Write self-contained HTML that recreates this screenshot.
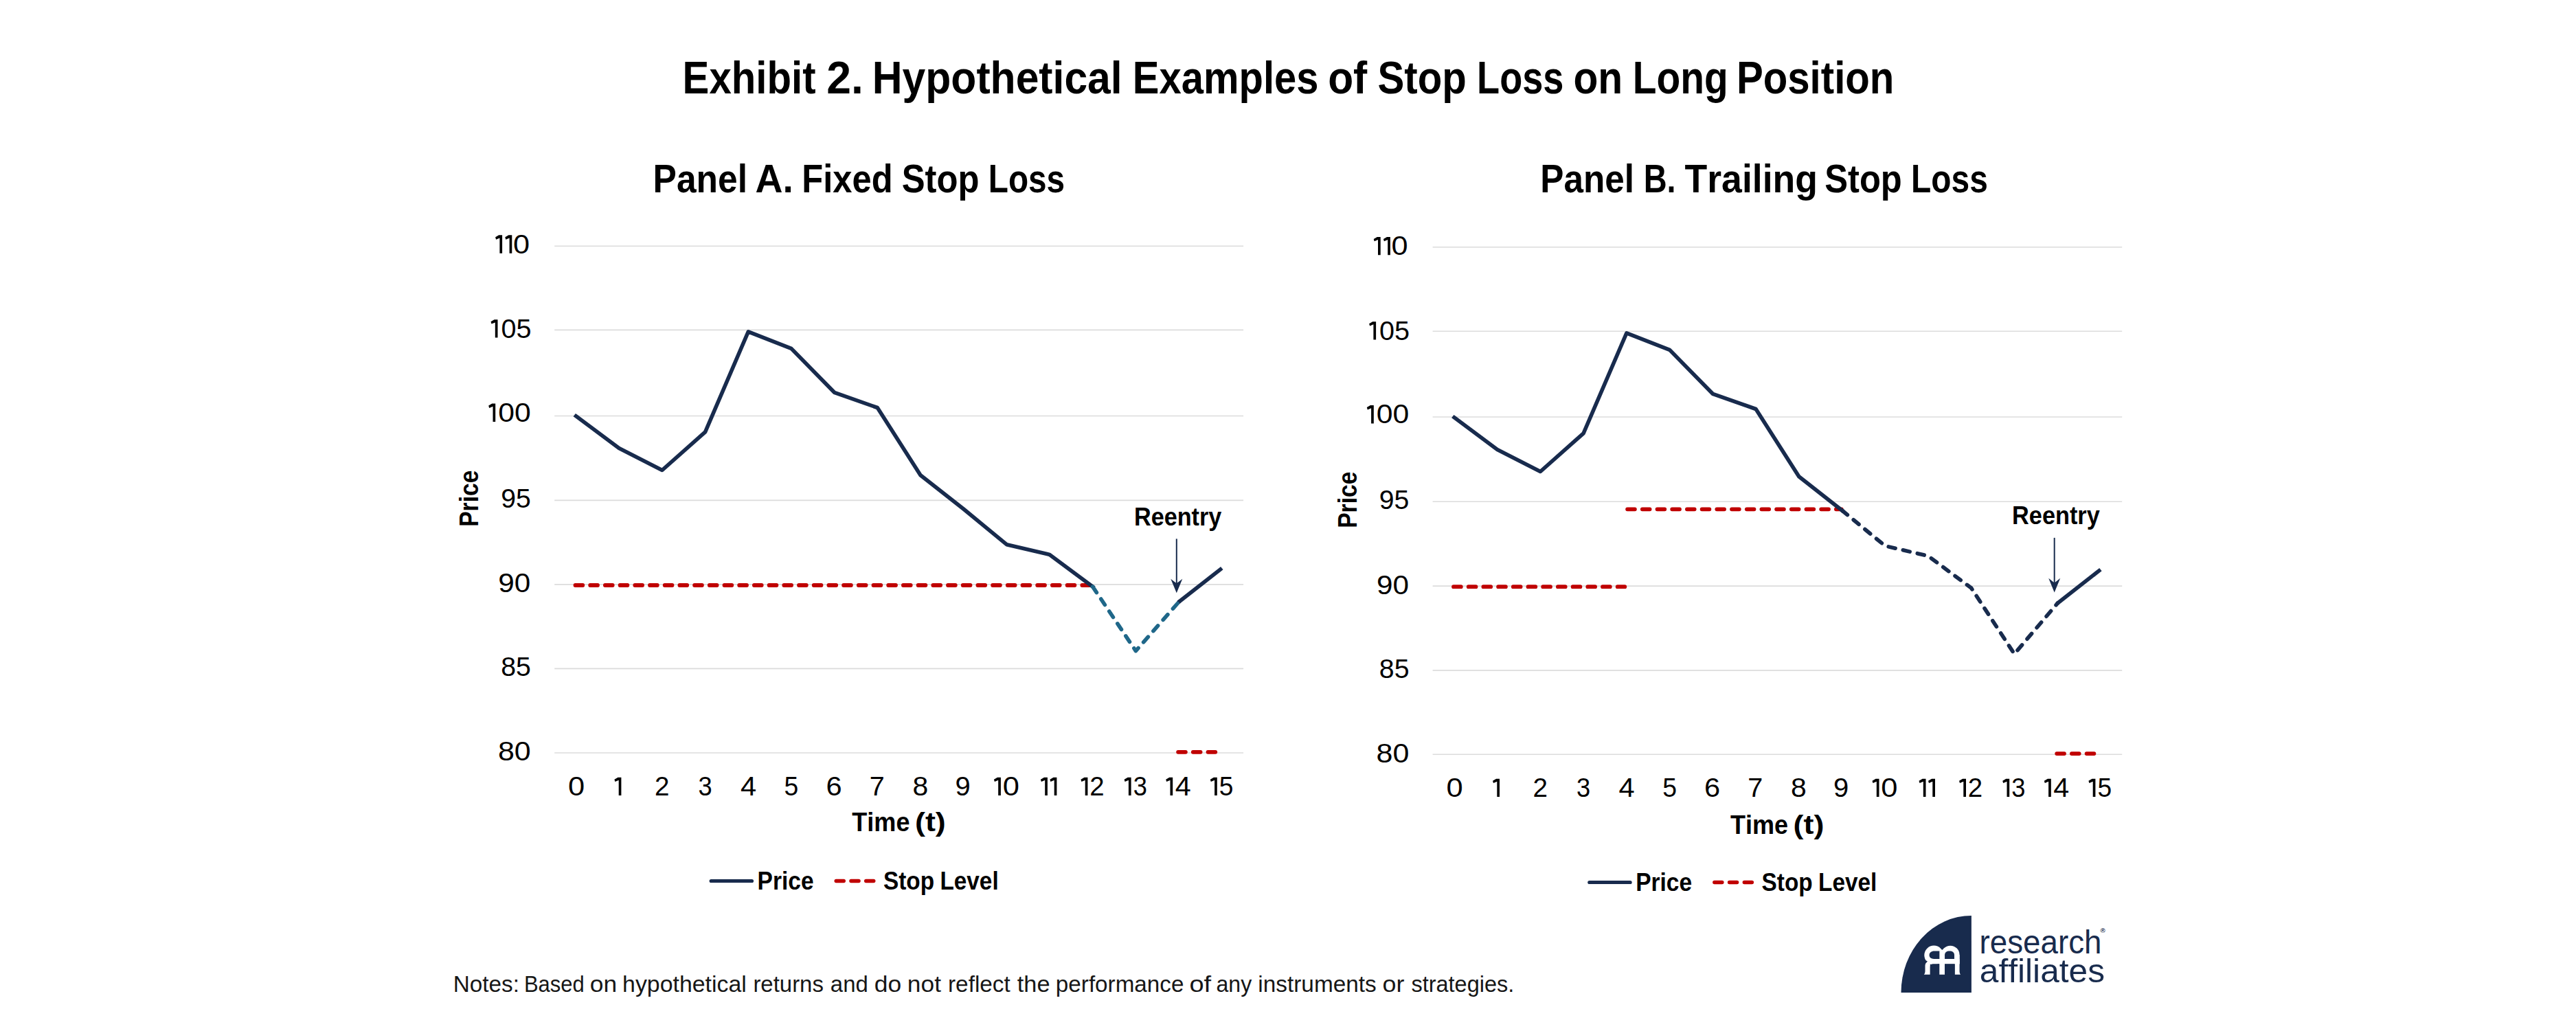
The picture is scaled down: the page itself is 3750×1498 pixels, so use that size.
<!DOCTYPE html>
<html><head><meta charset="utf-8"><title>Exhibit 2</title>
<style>
html,body{margin:0;padding:0;background:#fff;}
body{width:3750px;height:1498px;overflow:hidden;}
svg{display:block;font-family:"Liberation Sans",sans-serif;font-kerning:none;}
</style></head><body>
<svg width="3750" height="1498" viewBox="0 0 3750 1498">
<rect width="3750" height="1498" fill="#fff"/>
<text x="993.61" y="136.00" font-size="67.50" font-weight="bold" text-anchor="start" fill="#000" textLength="193.90" lengthAdjust="spacingAndGlyphs">Exhibit</text>
<text x="1203.27" y="136.00" font-size="67.50" font-weight="bold" text-anchor="start" fill="#000" textLength="53.66" lengthAdjust="spacingAndGlyphs">2.</text>
<text x="1269.84" y="136.00" font-size="67.50" font-weight="bold" text-anchor="start" fill="#000" textLength="363.85" lengthAdjust="spacingAndGlyphs">Hypothetical</text>
<text x="1648.82" y="136.00" font-size="67.50" font-weight="bold" text-anchor="start" fill="#000" textLength="270.65" lengthAdjust="spacingAndGlyphs">Examples</text>
<text x="1933.13" y="136.00" font-size="67.50" font-weight="bold" text-anchor="start" fill="#000" textLength="57.15" lengthAdjust="spacingAndGlyphs">of</text>
<text x="2005.52" y="136.00" font-size="67.50" font-weight="bold" text-anchor="start" fill="#000" textLength="129.37" lengthAdjust="spacingAndGlyphs">Stop</text>
<text x="2150.08" y="136.00" font-size="67.50" font-weight="bold" text-anchor="start" fill="#000" textLength="126.34" lengthAdjust="spacingAndGlyphs">Loss</text>
<text x="2290.51" y="136.00" font-size="67.50" font-weight="bold" text-anchor="start" fill="#000" textLength="71.73" lengthAdjust="spacingAndGlyphs">on</text>
<text x="2376.69" y="136.00" font-size="67.50" font-weight="bold" text-anchor="start" fill="#000" textLength="139.01" lengthAdjust="spacingAndGlyphs">Long</text>
<text x="2527.91" y="136.00" font-size="67.50" font-weight="bold" text-anchor="start" fill="#000" textLength="229.50" lengthAdjust="spacingAndGlyphs">Position</text>
<text x="950.55" y="280.20" font-size="58.10" font-weight="bold" text-anchor="start" fill="#000" textLength="137.50" lengthAdjust="spacingAndGlyphs">Panel</text>
<text x="1099.52" y="280.20" font-size="58.10" font-weight="bold" text-anchor="start" fill="#000" textLength="55.39" lengthAdjust="spacingAndGlyphs">A.</text>
<text x="1167.31" y="280.20" font-size="58.10" font-weight="bold" text-anchor="start" fill="#000" textLength="132.33" lengthAdjust="spacingAndGlyphs">Fixed</text>
<text x="1312.74" y="280.20" font-size="58.10" font-weight="bold" text-anchor="start" fill="#000" textLength="112.85" lengthAdjust="spacingAndGlyphs">Stop</text>
<text x="1438.81" y="280.20" font-size="58.10" font-weight="bold" text-anchor="start" fill="#000" textLength="111.35" lengthAdjust="spacingAndGlyphs">Loss</text>
<text x="2242.37" y="280.20" font-size="58.10" font-weight="bold" text-anchor="start" fill="#000" textLength="136.76" lengthAdjust="spacingAndGlyphs">Panel</text>
<text x="2392.66" y="280.20" font-size="58.10" font-weight="bold" text-anchor="start" fill="#000" textLength="46.98" lengthAdjust="spacingAndGlyphs">B.</text>
<text x="2452.50" y="280.20" font-size="58.10" font-weight="bold" text-anchor="start" fill="#000" textLength="193.49" lengthAdjust="spacingAndGlyphs">Trailing</text>
<text x="2656.24" y="280.20" font-size="58.10" font-weight="bold" text-anchor="start" fill="#000" textLength="112.54" lengthAdjust="spacingAndGlyphs">Stop</text>
<text x="2782.00" y="280.20" font-size="58.10" font-weight="bold" text-anchor="start" fill="#000" textLength="111.77" lengthAdjust="spacingAndGlyphs">Loss</text>
<line x1="807.2" x2="1810.1" y1="1096.00" y2="1096.00" stroke="#dcdcdc" stroke-width="1.6"/>
<line x1="807.2" x2="1810.1" y1="973.35" y2="973.35" stroke="#dcdcdc" stroke-width="1.6"/>
<line x1="807.2" x2="1810.1" y1="850.85" y2="850.85" stroke="#dcdcdc" stroke-width="1.6"/>
<line x1="807.2" x2="1810.1" y1="728.40" y2="728.40" stroke="#dcdcdc" stroke-width="1.6"/>
<line x1="807.2" x2="1810.1" y1="605.50" y2="605.50" stroke="#dcdcdc" stroke-width="1.6"/>
<line x1="807.2" x2="1810.1" y1="480.40" y2="480.40" stroke="#dcdcdc" stroke-width="1.6"/>
<line x1="807.2" x2="1810.1" y1="358.25" y2="358.25" stroke="#dcdcdc" stroke-width="1.6"/>
<path d="M726.20,342.35 L731.10,342.35 L731.10,368.65 L727.40,368.65 L727.40,346.45 L722.10,348.65 L721.10,345.35 Z" fill="#000"/>
<path d="M740.40,342.35 L745.30,342.35 L745.30,368.65 L741.60,368.65 L741.60,346.45 L736.30,348.65 L735.30,345.35 Z" fill="#000"/>
<text x="747.01" y="368.65" font-size="38.40" font-weight="normal" text-anchor="start" fill="#000" textLength="24.08" lengthAdjust="spacingAndGlyphs">0</text>
<path d="M719.60,465.30 L724.50,465.30 L724.50,491.60 L720.80,491.60 L720.80,469.40 L715.50,471.60 L714.50,468.30 Z" fill="#000"/>
<text x="729.40" y="491.60" font-size="38.40" font-weight="normal" text-anchor="start" fill="#000" textLength="44.06" lengthAdjust="spacingAndGlyphs">05</text>
<path d="M716.30,587.60 L721.20,587.60 L721.20,613.90 L717.50,613.90 L717.50,591.70 L712.20,593.90 L711.20,590.60 Z" fill="#000"/>
<text x="725.23" y="613.90" font-size="38.40" font-weight="normal" text-anchor="start" fill="#000" textLength="47.54" lengthAdjust="spacingAndGlyphs">00</text>
<text x="729.16" y="738.60" font-size="38.40" font-weight="normal" text-anchor="start" fill="#000" textLength="43.58" lengthAdjust="spacingAndGlyphs">95</text>
<text x="725.32" y="861.65" font-size="38.40" font-weight="normal" text-anchor="start" fill="#000" textLength="47.03" lengthAdjust="spacingAndGlyphs">90</text>
<text x="729.29" y="983.75" font-size="38.40" font-weight="normal" text-anchor="start" fill="#000" textLength="43.65" lengthAdjust="spacingAndGlyphs">85</text>
<text x="724.93" y="1106.80" font-size="38.40" font-weight="normal" text-anchor="start" fill="#000" textLength="47.85" lengthAdjust="spacingAndGlyphs">80</text>
<text x="826.90" y="1158.00" font-size="38.40" font-weight="normal" text-anchor="start" fill="#000" textLength="24.20" lengthAdjust="spacingAndGlyphs">0</text>
<path d="M899.50,1131.70 L904.40,1131.70 L904.40,1158.00 L900.70,1158.00 L900.70,1135.80 L895.40,1138.00 L894.40,1134.70 Z" fill="#000"/>
<text x="952.96" y="1158.00" font-size="38.40" font-weight="normal" text-anchor="start" fill="#000" textLength="21.49" lengthAdjust="spacingAndGlyphs">2</text>
<text x="1016.52" y="1158.00" font-size="38.40" font-weight="normal" text-anchor="start" fill="#000" textLength="20.18" lengthAdjust="spacingAndGlyphs">3</text>
<text x="1077.94" y="1158.00" font-size="38.40" font-weight="normal" text-anchor="start" fill="#000" textLength="23.18" lengthAdjust="spacingAndGlyphs">4</text>
<text x="1141.61" y="1158.00" font-size="38.40" font-weight="normal" text-anchor="start" fill="#000" textLength="20.76" lengthAdjust="spacingAndGlyphs">5</text>
<text x="1202.49" y="1158.00" font-size="38.40" font-weight="normal" text-anchor="start" fill="#000" textLength="23.14" lengthAdjust="spacingAndGlyphs">6</text>
<text x="1265.77" y="1158.00" font-size="38.40" font-weight="normal" text-anchor="start" fill="#000" textLength="22.02" lengthAdjust="spacingAndGlyphs">7</text>
<text x="1328.42" y="1158.00" font-size="38.40" font-weight="normal" text-anchor="start" fill="#000" textLength="22.76" lengthAdjust="spacingAndGlyphs">8</text>
<text x="1390.52" y="1158.00" font-size="38.40" font-weight="normal" text-anchor="start" fill="#000" textLength="22.27" lengthAdjust="spacingAndGlyphs">9</text>
<path d="M1452.00,1131.70 L1456.90,1131.70 L1456.90,1158.00 L1453.20,1158.00 L1453.20,1135.80 L1447.90,1138.00 L1446.90,1134.70 Z" fill="#000"/>
<text x="1459.70" y="1158.00" font-size="38.40" font-weight="normal" text-anchor="start" fill="#000" textLength="24.20" lengthAdjust="spacingAndGlyphs">0</text>
<path d="M1520.00,1131.70 L1524.90,1131.70 L1524.90,1158.00 L1521.20,1158.00 L1521.20,1135.80 L1515.90,1138.00 L1514.90,1134.70 Z" fill="#000"/>
<path d="M1533.50,1131.70 L1538.40,1131.70 L1538.40,1158.00 L1534.70,1158.00 L1534.70,1135.80 L1529.40,1138.00 L1528.40,1134.70 Z" fill="#000"/>
<path d="M1578.50,1131.70 L1583.40,1131.70 L1583.40,1158.00 L1579.70,1158.00 L1579.70,1135.80 L1574.40,1138.00 L1573.40,1134.70 Z" fill="#000"/>
<text x="1586.27" y="1158.00" font-size="38.40" font-weight="normal" text-anchor="start" fill="#000" textLength="21.36" lengthAdjust="spacingAndGlyphs">2</text>
<path d="M1641.70,1131.70 L1646.60,1131.70 L1646.60,1158.00 L1642.90,1158.00 L1642.90,1135.80 L1637.60,1138.00 L1636.60,1134.70 Z" fill="#000"/>
<text x="1649.72" y="1158.00" font-size="38.40" font-weight="normal" text-anchor="start" fill="#000" textLength="20.18" lengthAdjust="spacingAndGlyphs">3</text>
<path d="M1702.30,1131.70 L1707.20,1131.70 L1707.20,1158.00 L1703.50,1158.00 L1703.50,1135.80 L1698.20,1138.00 L1697.20,1134.70 Z" fill="#000"/>
<text x="1710.75" y="1158.00" font-size="38.40" font-weight="normal" text-anchor="start" fill="#000" textLength="22.96" lengthAdjust="spacingAndGlyphs">4</text>
<path d="M1766.90,1131.70 L1771.80,1131.70 L1771.80,1158.00 L1768.10,1158.00 L1768.10,1135.80 L1762.80,1138.00 L1761.80,1134.70 Z" fill="#000"/>
<text x="1774.81" y="1158.00" font-size="38.40" font-weight="normal" text-anchor="start" fill="#000" textLength="20.65" lengthAdjust="spacingAndGlyphs">5</text>
<g transform="translate(696.0,764.6) rotate(-90)">
<text x="-2.25" y="0.00" font-size="39.40" font-weight="bold" text-anchor="start" fill="#000" textLength="82.20" lengthAdjust="spacingAndGlyphs">Price</text>
</g>
<text x="1240.30" y="1210.10" font-size="38.00" font-weight="bold" text-anchor="start" fill="#000" textLength="84.14" lengthAdjust="spacingAndGlyphs">Time</text>
<text x="1331.96" y="1210.10" font-size="38.00" font-weight="bold" text-anchor="start" fill="#000" textLength="44.87" lengthAdjust="spacingAndGlyphs">(t)</text>
<line x1="837.5" x2="1585.7" y1="852.0" y2="852.0" stroke="#c00000" stroke-width="5.8" stroke-linecap="round" stroke-dasharray="10.8 10.9"/>
<line x1="1715.1" x2="1769.8" y1="1094.8" y2="1094.8" stroke="#c00000" stroke-width="5.8" stroke-linecap="round" stroke-dasharray="10.8 10.9"/>
<polyline points="838.5,605.8 901.2,652.5 963.9,684.5 1026.6,628.9 1089.3,482.8 1151.9,507.4 1214.6,571.3 1277.3,593.5 1340.0,691.8 1402.7,741.0 1465.4,792.7 1528.0,807.4 1590.7,854.1" fill="none" stroke="#182b4d" stroke-width="5.6" stroke-linecap="square" stroke-linejoin="round"/>
<polyline points="1716.1,876.3 1778.8,827.1" fill="none" stroke="#182b4d" stroke-width="5.6" stroke-linecap="butt" stroke-linejoin="round"/>
<circle cx="1716.1" cy="876.3" r="2.8" fill="#182b4d"/>
<polyline points="1590.7,854.1 1653.4,947.6 1716.1,876.3" fill="none" stroke="#1f6789" stroke-width="5.6" stroke-linecap="round" stroke-linejoin="round" stroke-dasharray="10.2 11.4" stroke-dashoffset="0"/>
<line x1="1035.2" x2="1094.5" y1="1282.5" y2="1282.5" stroke="#182b4d" stroke-width="5.2" stroke-linecap="round"/>
<text x="1102.56" y="1294.50" font-size="37.50" font-weight="bold" text-anchor="start" fill="#000" textLength="81.99" lengthAdjust="spacingAndGlyphs">Price</text>
<line x1="1217.3" x2="1272.0" y1="1282.5" y2="1282.5" stroke="#c00000" stroke-width="5.6" stroke-linecap="round" stroke-dasharray="10.9 10.85"/>
<text x="1285.94" y="1294.50" font-size="37.50" font-weight="bold" text-anchor="start" fill="#000" textLength="74.13" lengthAdjust="spacingAndGlyphs">Stop</text>
<text x="1368.47" y="1294.50" font-size="37.50" font-weight="bold" text-anchor="start" fill="#000" textLength="85.19" lengthAdjust="spacingAndGlyphs">Level</text>
<line x1="2085.6" x2="3089.2" y1="1098.30" y2="1098.30" stroke="#dcdcdc" stroke-width="1.6"/>
<line x1="2085.6" x2="3089.2" y1="975.85" y2="975.85" stroke="#dcdcdc" stroke-width="1.6"/>
<line x1="2085.6" x2="3089.2" y1="853.10" y2="853.10" stroke="#dcdcdc" stroke-width="1.6"/>
<line x1="2085.6" x2="3089.2" y1="730.20" y2="730.20" stroke="#dcdcdc" stroke-width="1.6"/>
<line x1="2085.6" x2="3089.2" y1="607.00" y2="607.00" stroke="#dcdcdc" stroke-width="1.6"/>
<line x1="2085.6" x2="3089.2" y1="482.30" y2="482.30" stroke="#dcdcdc" stroke-width="1.6"/>
<line x1="2085.6" x2="3089.2" y1="359.80" y2="359.80" stroke="#dcdcdc" stroke-width="1.6"/>
<path d="M2004.80,344.90 L2009.70,344.90 L2009.70,371.20 L2006.00,371.20 L2006.00,349.00 L2000.70,351.20 L1999.70,347.90 Z" fill="#000"/>
<path d="M2019.00,344.90 L2023.90,344.90 L2023.90,371.20 L2020.20,371.20 L2020.20,349.00 L2014.90,351.20 L2013.90,347.90 Z" fill="#000"/>
<text x="2025.61" y="371.20" font-size="38.40" font-weight="normal" text-anchor="start" fill="#000" textLength="24.08" lengthAdjust="spacingAndGlyphs">0</text>
<path d="M1998.20,468.20 L2003.10,468.20 L2003.10,494.50 L1999.40,494.50 L1999.40,472.30 L1994.10,474.50 L1993.10,471.20 Z" fill="#000"/>
<text x="2008.00" y="494.50" font-size="38.40" font-weight="normal" text-anchor="start" fill="#000" textLength="44.06" lengthAdjust="spacingAndGlyphs">05</text>
<path d="M1994.90,590.10 L1999.80,590.10 L1999.80,616.40 L1996.10,616.40 L1996.10,594.20 L1990.80,596.40 L1989.80,593.10 Z" fill="#000"/>
<text x="2003.83" y="616.40" font-size="38.40" font-weight="normal" text-anchor="start" fill="#000" textLength="47.54" lengthAdjust="spacingAndGlyphs">00</text>
<text x="2007.76" y="741.40" font-size="38.40" font-weight="normal" text-anchor="start" fill="#000" textLength="43.58" lengthAdjust="spacingAndGlyphs">95</text>
<text x="2003.92" y="864.90" font-size="38.40" font-weight="normal" text-anchor="start" fill="#000" textLength="47.03" lengthAdjust="spacingAndGlyphs">90</text>
<text x="2007.89" y="987.25" font-size="38.40" font-weight="normal" text-anchor="start" fill="#000" textLength="43.65" lengthAdjust="spacingAndGlyphs">85</text>
<text x="2003.53" y="1110.10" font-size="38.40" font-weight="normal" text-anchor="start" fill="#000" textLength="47.85" lengthAdjust="spacingAndGlyphs">80</text>
<text x="2105.50" y="1160.00" font-size="38.40" font-weight="normal" text-anchor="start" fill="#000" textLength="24.20" lengthAdjust="spacingAndGlyphs">0</text>
<path d="M2178.10,1133.70 L2183.00,1133.70 L2183.00,1160.00 L2179.30,1160.00 L2179.30,1137.80 L2174.00,1140.00 L2173.00,1136.70 Z" fill="#000"/>
<text x="2231.56" y="1160.00" font-size="38.40" font-weight="normal" text-anchor="start" fill="#000" textLength="21.49" lengthAdjust="spacingAndGlyphs">2</text>
<text x="2295.12" y="1160.00" font-size="38.40" font-weight="normal" text-anchor="start" fill="#000" textLength="20.18" lengthAdjust="spacingAndGlyphs">3</text>
<text x="2356.54" y="1160.00" font-size="38.40" font-weight="normal" text-anchor="start" fill="#000" textLength="23.18" lengthAdjust="spacingAndGlyphs">4</text>
<text x="2420.21" y="1160.00" font-size="38.40" font-weight="normal" text-anchor="start" fill="#000" textLength="20.76" lengthAdjust="spacingAndGlyphs">5</text>
<text x="2481.09" y="1160.00" font-size="38.40" font-weight="normal" text-anchor="start" fill="#000" textLength="23.14" lengthAdjust="spacingAndGlyphs">6</text>
<text x="2544.37" y="1160.00" font-size="38.40" font-weight="normal" text-anchor="start" fill="#000" textLength="22.02" lengthAdjust="spacingAndGlyphs">7</text>
<text x="2607.02" y="1160.00" font-size="38.40" font-weight="normal" text-anchor="start" fill="#000" textLength="22.76" lengthAdjust="spacingAndGlyphs">8</text>
<text x="2669.12" y="1160.00" font-size="38.40" font-weight="normal" text-anchor="start" fill="#000" textLength="22.27" lengthAdjust="spacingAndGlyphs">9</text>
<path d="M2730.60,1133.70 L2735.50,1133.70 L2735.50,1160.00 L2731.80,1160.00 L2731.80,1137.80 L2726.50,1140.00 L2725.50,1136.70 Z" fill="#000"/>
<text x="2738.30" y="1160.00" font-size="38.40" font-weight="normal" text-anchor="start" fill="#000" textLength="24.20" lengthAdjust="spacingAndGlyphs">0</text>
<path d="M2798.60,1133.70 L2803.50,1133.70 L2803.50,1160.00 L2799.80,1160.00 L2799.80,1137.80 L2794.50,1140.00 L2793.50,1136.70 Z" fill="#000"/>
<path d="M2812.10,1133.70 L2817.00,1133.70 L2817.00,1160.00 L2813.30,1160.00 L2813.30,1137.80 L2808.00,1140.00 L2807.00,1136.70 Z" fill="#000"/>
<path d="M2857.10,1133.70 L2862.00,1133.70 L2862.00,1160.00 L2858.30,1160.00 L2858.30,1137.80 L2853.00,1140.00 L2852.00,1136.70 Z" fill="#000"/>
<text x="2864.87" y="1160.00" font-size="38.40" font-weight="normal" text-anchor="start" fill="#000" textLength="21.36" lengthAdjust="spacingAndGlyphs">2</text>
<path d="M2920.30,1133.70 L2925.20,1133.70 L2925.20,1160.00 L2921.50,1160.00 L2921.50,1137.80 L2916.20,1140.00 L2915.20,1136.70 Z" fill="#000"/>
<text x="2928.32" y="1160.00" font-size="38.40" font-weight="normal" text-anchor="start" fill="#000" textLength="20.18" lengthAdjust="spacingAndGlyphs">3</text>
<path d="M2980.90,1133.70 L2985.80,1133.70 L2985.80,1160.00 L2982.10,1160.00 L2982.10,1137.80 L2976.80,1140.00 L2975.80,1136.70 Z" fill="#000"/>
<text x="2989.35" y="1160.00" font-size="38.40" font-weight="normal" text-anchor="start" fill="#000" textLength="22.96" lengthAdjust="spacingAndGlyphs">4</text>
<path d="M3045.50,1133.70 L3050.40,1133.70 L3050.40,1160.00 L3046.70,1160.00 L3046.70,1137.80 L3041.40,1140.00 L3040.40,1136.70 Z" fill="#000"/>
<text x="3053.41" y="1160.00" font-size="38.40" font-weight="normal" text-anchor="start" fill="#000" textLength="20.65" lengthAdjust="spacingAndGlyphs">5</text>
<g transform="translate(1974.6,766.6) rotate(-90)">
<text x="-2.25" y="0.00" font-size="39.40" font-weight="bold" text-anchor="start" fill="#000" textLength="82.20" lengthAdjust="spacingAndGlyphs">Price</text>
</g>
<text x="2518.90" y="1213.60" font-size="38.00" font-weight="bold" text-anchor="start" fill="#000" textLength="84.14" lengthAdjust="spacingAndGlyphs">Time</text>
<text x="2610.56" y="1213.60" font-size="38.00" font-weight="bold" text-anchor="start" fill="#000" textLength="44.87" lengthAdjust="spacingAndGlyphs">(t)</text>
<line x1="2116.0" x2="2365.3" y1="854.2" y2="854.2" stroke="#c00000" stroke-width="5.8" stroke-linecap="round" stroke-dasharray="10.8 10.9"/>
<line x1="2369.1" x2="2680.8" y1="741.3" y2="741.3" stroke="#c00000" stroke-width="5.8" stroke-linecap="round" stroke-dasharray="10.8 10.9"/>
<line x1="2994.2" x2="3048.9" y1="1097.1" y2="1097.1" stroke="#c00000" stroke-width="5.8" stroke-linecap="round" stroke-dasharray="10.8 10.9"/>
<polyline points="2117.0,607.8 2179.7,654.5 2242.4,686.5 2305.1,630.9 2367.9,484.8 2430.6,509.4 2493.3,573.3 2556.1,595.5 2618.8,693.8 2681.5,743.0" fill="none" stroke="#182b4d" stroke-width="5.6" stroke-linecap="square" stroke-linejoin="round"/>
<polyline points="2681.5,743.0 2744.2,794.7 2807.0,809.4 2869.7,856.1 2932.4,952.0 2995.2,878.3" fill="none" stroke="#182b4d" stroke-width="5.6" stroke-linecap="round" stroke-linejoin="round" stroke-dasharray="10.2 11.4" stroke-dashoffset="0"/>
<polyline points="2995.2,878.3 3057.9,829.1" fill="none" stroke="#182b4d" stroke-width="5.6" stroke-linecap="butt" stroke-linejoin="round"/>
<circle cx="2995.2" cy="878.3" r="2.8" fill="#182b4d"/>
<line x1="2313.8" x2="2373.1" y1="1284.5" y2="1284.5" stroke="#182b4d" stroke-width="5.2" stroke-linecap="round"/>
<text x="2381.16" y="1296.50" font-size="37.50" font-weight="bold" text-anchor="start" fill="#000" textLength="81.99" lengthAdjust="spacingAndGlyphs">Price</text>
<line x1="2495.9" x2="2550.6" y1="1284.5" y2="1284.5" stroke="#c00000" stroke-width="5.6" stroke-linecap="round" stroke-dasharray="10.9 10.85"/>
<text x="2564.54" y="1296.50" font-size="37.50" font-weight="bold" text-anchor="start" fill="#000" textLength="74.13" lengthAdjust="spacingAndGlyphs">Stop</text>
<text x="2647.07" y="1296.50" font-size="37.50" font-weight="bold" text-anchor="start" fill="#000" textLength="85.19" lengthAdjust="spacingAndGlyphs">Level</text>
<text x="1650.91" y="764.50" font-size="37.00" font-weight="bold" text-anchor="start" fill="#000" textLength="127.47" lengthAdjust="spacingAndGlyphs">Reentry</text>
<line x1="1712.8" x2="1712.8" y1="784.4" y2="855.3" stroke="#182b4d" stroke-width="2"/>
<path d="M1712.8,863.3 L1704.3,842.7 L1712.8,849.3 L1721.3,842.7 Z" fill="#182b4d"/>
<text x="2929.11" y="763.00" font-size="37.00" font-weight="bold" text-anchor="start" fill="#000" textLength="127.68" lengthAdjust="spacingAndGlyphs">Reentry</text>
<line x1="2990.7" x2="2990.7" y1="782.9" y2="854.4" stroke="#182b4d" stroke-width="2"/>
<path d="M2990.7,862.4 L2982.2,841.8 L2990.7,848.4 L2999.2,841.8 Z" fill="#182b4d"/>
<text x="659.77" y="1443.50" font-size="33.80" font-weight="normal" text-anchor="start" fill="#161616" textLength="96.17" lengthAdjust="spacingAndGlyphs">Notes:</text>
<text x="762.96" y="1443.50" font-size="33.80" font-weight="normal" text-anchor="start" fill="#161616" textLength="87.84" lengthAdjust="spacingAndGlyphs">Based</text>
<text x="858.81" y="1443.50" font-size="33.80" font-weight="normal" text-anchor="start" fill="#161616" textLength="39.39" lengthAdjust="spacingAndGlyphs">on</text>
<text x="906.05" y="1443.50" font-size="33.80" font-weight="normal" text-anchor="start" fill="#161616" textLength="180.71" lengthAdjust="spacingAndGlyphs">hypothetical</text>
<text x="1096.41" y="1443.50" font-size="33.80" font-weight="normal" text-anchor="start" fill="#161616" textLength="102.48" lengthAdjust="spacingAndGlyphs">returns</text>
<text x="1208.80" y="1443.50" font-size="33.80" font-weight="normal" text-anchor="start" fill="#161616" textLength="55.03" lengthAdjust="spacingAndGlyphs">and</text>
<text x="1272.71" y="1443.50" font-size="33.80" font-weight="normal" text-anchor="start" fill="#161616" textLength="39.48" lengthAdjust="spacingAndGlyphs">do</text>
<text x="1320.85" y="1443.50" font-size="33.80" font-weight="normal" text-anchor="start" fill="#161616" textLength="49.10" lengthAdjust="spacingAndGlyphs">not</text>
<text x="1379.98" y="1443.50" font-size="33.80" font-weight="normal" text-anchor="start" fill="#161616" textLength="90.86" lengthAdjust="spacingAndGlyphs">reflect</text>
<text x="1480.78" y="1443.50" font-size="33.80" font-weight="normal" text-anchor="start" fill="#161616" textLength="47.75" lengthAdjust="spacingAndGlyphs">the</text>
<text x="1536.86" y="1443.50" font-size="33.80" font-weight="normal" text-anchor="start" fill="#161616" textLength="186.52" lengthAdjust="spacingAndGlyphs">performance</text>
<text x="1731.40" y="1443.50" font-size="33.80" font-weight="normal" text-anchor="start" fill="#161616" textLength="31.74" lengthAdjust="spacingAndGlyphs">of</text>
<text x="1770.54" y="1443.50" font-size="33.80" font-weight="normal" text-anchor="start" fill="#161616" textLength="51.73" lengthAdjust="spacingAndGlyphs">any</text>
<text x="1831.27" y="1443.50" font-size="33.80" font-weight="normal" text-anchor="start" fill="#161616" textLength="172.54" lengthAdjust="spacingAndGlyphs">instruments</text>
<text x="2012.49" y="1443.50" font-size="33.80" font-weight="normal" text-anchor="start" fill="#161616" textLength="31.90" lengthAdjust="spacingAndGlyphs">or</text>
<text x="2054.40" y="1443.50" font-size="33.80" font-weight="normal" text-anchor="start" fill="#161616" textLength="149.87" lengthAdjust="spacingAndGlyphs">strategies.</text>
<path d="M2869.9,1332.9 L2869.9,1445 L2767.5,1445 A102.4,112.1 0 0 1 2869.9,1332.9 Z" fill="#182b4d"/>
<g transform="translate(2760,1325) scale(0.12146)">
<g fill="#fff">
<circle cx="455" cy="540" r="115"/>
<path d="M542,645 L542,535 A110,110 0 0 1 762,535 L762,645 Z"/>
<rect x="400" y="585" width="362" height="60"/>
<rect x="520" y="475" width="65" height="297"/>
<path d="M705,535 L762,535 L762,735 Q763,760 774,772 L705,772 Z"/>
<path d="M410,772 L336,772 Q349,760 350,735 L350,665 Q350,628 392,612 L410,612 Z"/>
</g>
<g fill="#182b4d">
<path d="M522,490 L462,490 C422,490 400,510 400,538 C400,568 422,585 455,585 L522,585 Z"/>
<path d="M585,585 L585,538 C585,506 608,490 642,490 C677,490 700,506 700,538 L700,585 Z"/>
<path d="M410,773 L410,680 C410,656 424,645 446,645 L520,645 L520,773 Z"/>
<rect x="585" y="645" width="120" height="128"/>
<path d="M330,596 Q352,600 380,611 Q352,622 346,650 L330,650 Z"/>
</g></g>
<text x="2881.56" y="1387.50" font-size="49.00" font-weight="normal" text-anchor="start" fill="#182b4d" textLength="178.01" lengthAdjust="spacingAndGlyphs">research</text>
<text x="2881.89" y="1430.30" font-size="49.00" font-weight="normal" text-anchor="start" fill="#182b4d" textLength="182.10" lengthAdjust="spacingAndGlyphs">affiliates</text>
<text x="3057.40" y="1358.20" font-size="9.80" font-weight="bold" text-anchor="start" fill="#182b4d">®</text>
</svg>
</body></html>
